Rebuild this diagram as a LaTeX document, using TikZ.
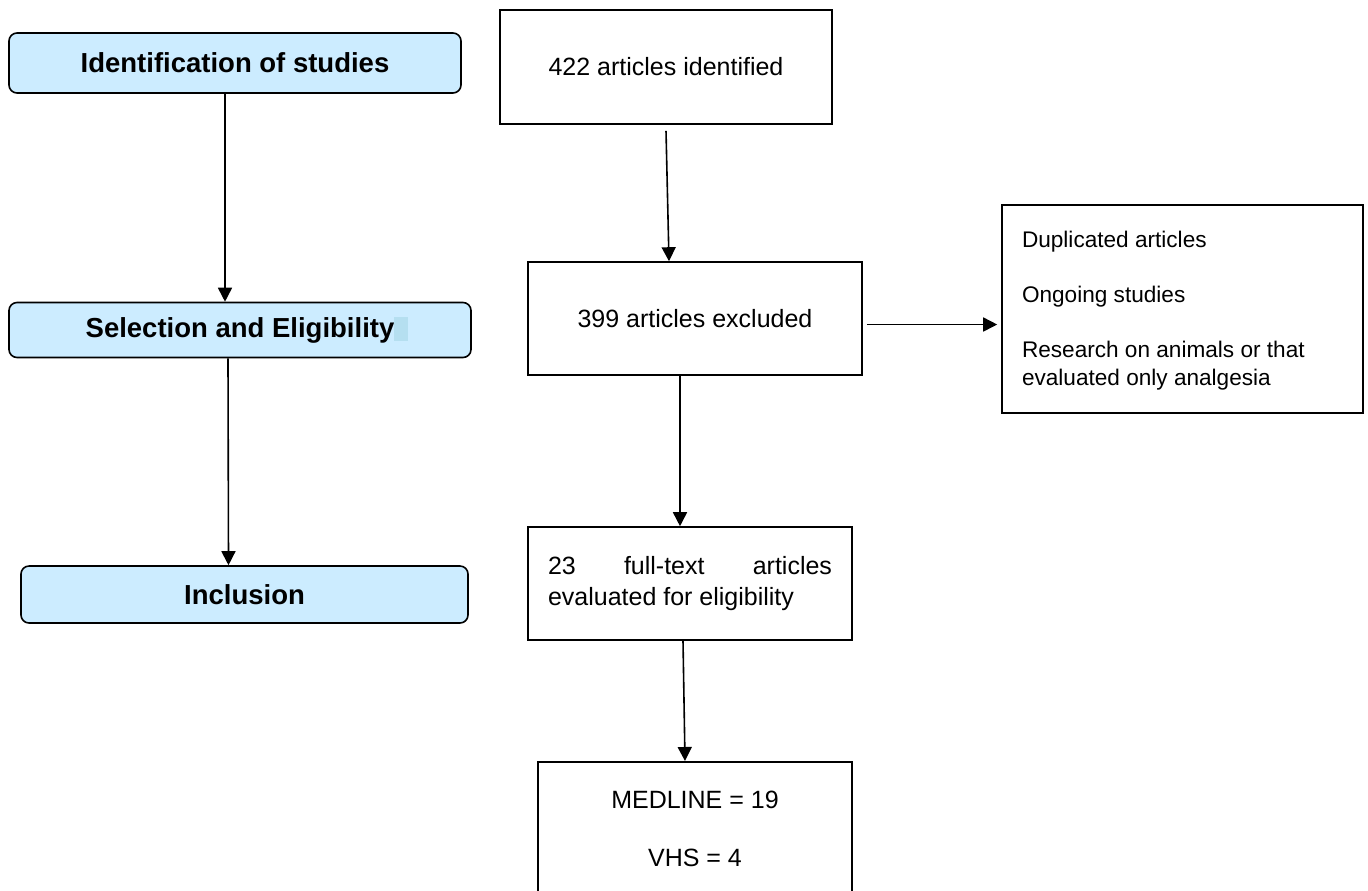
\documentclass[tikz,border=0pt]{standalone}
\usepackage{fontspec}
\setmainfont{Liberation Sans}
\usetikzlibrary{arrows.meta}
\definecolor{stagefill}{RGB}{204,236,255}
\definecolor{selmark}{RGB}{181,223,240}

\begin{document}
\begin{tikzpicture}[x=0.5pt,y=-0.5pt,>={Triangle[length=7pt,width=7pt]},line width=0.8pt,
    stage/.style={draw,rounded corners=4pt,fill=stagefill,inner sep=0pt,font=\fontsize{13.75}{16}\selectfont\bfseries},
    box/.style={draw,inner sep=0pt,font=\fontsize{12.5}{15}\selectfont}]
    \useasboundingbox (0,0) rectangle (1368,890);

    % stages on the left
    \node[stage,minimum width=226pt,minimum height=30pt] (ident) at (235,63) {Identification of studies};
    \node[stage,minimum width=231pt,minimum height=27.5pt] (selec) at (240,330) {Selection and Eligibility\rlap{\color{selmark}\rule[-1.5pt]{7pt}{12pt}}};
    \node[stage,minimum width=223.5pt,minimum height=28.5pt] (inclu) at (244.5,594.5) {Inclusion};

    % flow of articles
    \node[box,minimum width=166pt,minimum height=57pt] (found) at (666,67) {422 articles identified};
    \node[box,minimum width=167pt,minimum height=56.5pt] (dropped) at (695,318.5) {399 articles excluded};
    \node[box,minimum width=180.5pt,minimum height=104pt,inner xsep=10pt,font=\fontsize{11.3}{14}\selectfont] (reasons) at (1182.5,309)
        {\parbox[t][78pt][t]{160.5pt}{\raggedright Duplicated articles\\[13.5pt]Ongoing studies\\[13.5pt]Research on animals or that\\evaluated only analgesia}};
    \node[box,minimum width=162pt,minimum height=56.5pt] (fulltext) at (690,583.5)
        {\parbox{142pt}{\makebox[\linewidth][s]{23 full-text articles}\\[0.5pt]evaluated for eligibility}};
    \node[box,minimum width=157pt,minimum height=72pt,anchor=north] (final) at (695,761)
        {\parbox[t][43pt][t]{150pt}{\centering MEDLINE = 19\\[14pt]VHS = 4}};

    \draw[->] ([xshift=-5pt]ident.south) -- ([xshift=-7.5pt]selec.north);
    \draw[->] ([xshift=-6pt]selec.south) -- ([xshift=-8pt]inclu.north);
    \draw[->] ([yshift=-3pt]found.south) -- ([xshift=-13pt]dropped.north);
    \draw[->] ([xshift=-7.5pt]dropped.south) -- ([xshift=-5pt]fulltext.north);
    \draw[->] ([xshift=-3.5pt]fulltext.south) -- ([xshift=-5pt]final.north);
    \draw[->] ([shift={(2pt,-3pt)}]dropped.east) -- ([shift={(-2pt,-3pt)}]dropped.east -| reasons.west);
\end{tikzpicture}
\end{document}
